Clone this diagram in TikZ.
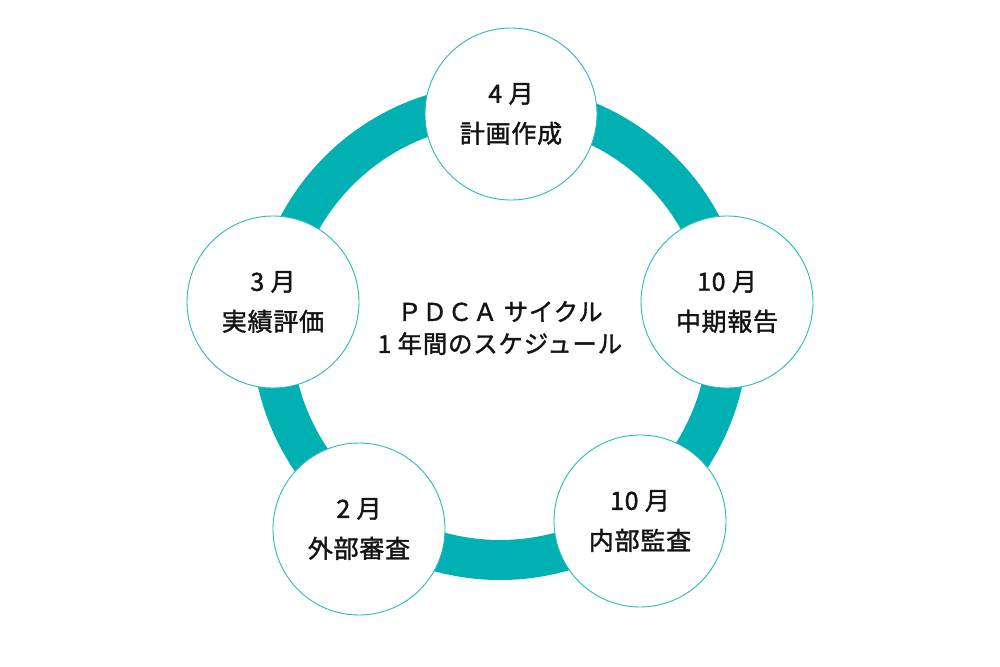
\documentclass[tikz,border=0pt]{standalone}
\usepackage{fontspec}
\setmainfont{Noto Sans CJK JP}[FakeBold=1.5, LetterSpace=3]
\usetikzlibrary{shapes,positioning}
\definecolor{pdcateal}{RGB}{0, 176, 178}
\definecolor{pdcaline}{RGB}{40, 186, 188}
\definecolor{pdcatext}{RGB}{20, 20, 20}

\begin{document}
\begin{tikzpicture}[x=1pt, y=-1pt,
		% Styles
		ring/.style={draw=pdcateal, line width=40pt},
		month/.style={circle, draw=pdcaline, line width=0.9pt, fill=white,
				minimum size=172pt, inner sep=0pt, align=center, text=pdcatext,
				font=\fontsize{25}{40}\selectfont},
		title/.style={align=center, text=pdcatext, font=\fontsize{24.5}{32}\selectfont}
	]

	\useasboundingbox (0,0) rectangle (1000,666);

	% Ring
	\draw[ring] (500,332) circle[radius=228pt];

	% Month circles
	\node[month] (apr) at (511,114) {4 月\\計画作成};
	\node[month] (oct1) at (727,302) {10 月\\中期報告};
	\node[month] (oct2) at (640,521) {10 月\\内部監査};
	\node[month] (feb) at (359,529) {2 月\\外部審査};
	\node[month] (mar) at (273,302) {3 月\\実績評価};

	% Centre title
	\node[title] (center) at (500,328) {ＰＤＣＡ サイクル\\1 年間のスケジュール};

\end{tikzpicture}
\end{document}
